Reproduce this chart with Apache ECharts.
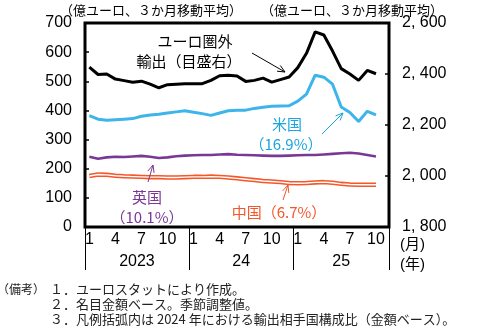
<!DOCTYPE html>
<html><head><meta charset="utf-8">
<script src="https://cdn.jsdelivr.net/npm/echarts@6/dist/echarts.min.js"></script>
<style>html,body{margin:0;padding:0;background:#fff}#c{width:483px;height:327px}</style>
</head><body><div id="c"></div>
<script>
// ---- data ----
const categories = [
  '2023-1','2023-2','2023-3','2023-4','2023-5','2023-6','2023-7','2023-8','2023-9','2023-10','2023-11','2023-12',
  '2024-1','2024-2','2024-3','2024-4','2024-5','2024-6','2024-7','2024-8','2024-9','2024-10','2024-11','2024-12',
  '2025-1','2025-2','2025-3','2025-4','2025-5','2025-6','2025-7','2025-8','2025-9','2025-10','2025-11'
];
const monthTickLabels = ['1','4','7','10'];
const yearLabels = {'2023':'2023','2024':'24','2025':'25'};
const leftTicks = [0,100,200,300,400,500,600,700];
const rightTicks = [1800,2000,2200,2400,2600];

// extra-EU exports (right axis)
const extraEU = [2427,2398,2400,2380,2374,2368,2372,2360,2346,2358,2360,2362,
                 2362,2362,2375,2393,2395,2392,2371,2375,2384,2368,2378,2388,
                 2425,2481,2565,2553,2490,2421,2400,2375,2414,2401];
// United States
const usa = [382,370,366,368,370,372,380,384,387,391,395,399,
             394,389,383,391,399,401,401,407,411,414,415,416,
             432,456,521,514,490,412,393,362,397,385];
// United Kingdom
const uk = [241,234,239,241,240,242,244,241,237,239,243,245,
            246,247,247,249,250,248,247,246,245,244,244,245,
            246,247,247,249,251,253,255,252,247,242];
// China
const china = [175,180,179,176,174,173,172,171,171,170,170,171,
               172,172,173,172,170,167,164,161,158,156,154,151,
               150,151,153,154,152,148,146,145,145,145];

// ---- chart ----
const NUM = "'Liberation Sans Narrow','Arial Narrow','Liberation Sans',sans-serif";
const JP = "'Noto Sans CJK JP','Noto Sans',sans-serif";
const C_BLUE = '#3db4ea', C_PURPLE = '#7a3896', C_ORANGE = '#f4572a';

function arrow(x1, y1, x2, y2, color) {
  const ang = Math.atan2(y2 - y1, x2 - x1), L = 8, a = 0.42;
  const p1 = [x2 - L * Math.cos(ang - a), y2 - L * Math.sin(ang - a)];
  const p2 = [x2 - L * Math.cos(ang + a), y2 - L * Math.sin(ang + a)];
  return [
    {type: 'line', shape: {x1, y1, x2, y2}, style: {stroke: color, lineWidth: 1}, z: 100},
    {type: 'polyline', shape: {points: [p1, [x2, y2], p2]}, style: {stroke: color, lineWidth: 1, fill: null}, z: 100}
  ];
}
function txt(x, y, text, size, color, align, family) {
  return {type: 'text', x, y, z: 100, style: {
    text, fill: color, font: size + 'px ' + (family || JP),
    align: align || 'center', textAlign: align || 'center',
    verticalAlign: 'middle', textVerticalAlign: 'middle'}};
}

const chart = echarts.init(document.getElementById('c'), null, {renderer: 'canvas'});
chart.setOption({
  animation: false,
  grid: {left: 85, right: 94, top: 23, bottom: 100, show: true, borderColor: '#000', borderWidth: 3, backgroundColor: 'transparent'},
  xAxis: [{
    type: 'category', data: categories, boundaryGap: true, position: 'bottom',
    axisLine: {show: false},
    axisTick: {show: true, interval: (i) => i % 12 === 0, length: 43, inside: false, lineStyle: {color: '#000', width: 1}},
    axisLabel: {interval: 0, margin: 5, color: '#000', fontSize: 16, fontFamily: NUM,
      formatter: (v) => { const m = v.split('-')[1]; return monthTickLabels.includes(m) ? m : ''; }},
    splitLine: {show: false}
  }, {
    type: 'category', data: categories, boundaryGap: true, position: 'bottom', offset: 22,
    axisLine: {show: false}, axisTick: {show: false}, splitLine: {show: false},
    axisLabel: {interval: 0, margin: 5, color: '#000', fontSize: 16, fontFamily: NUM,
      formatter: (v) => {
        const [y, m] = v.split('-');
        if ((y === '2023' || y === '2024') && m === '7') return '{l|' + yearLabels[y] + '}';
        if (y === '2025' && m === '6') return yearLabels[y];
        return '';
      },
      rich: {l: {fontSize: 16, fontFamily: NUM, color: '#000', padding: [0, 9, 0, 0]}}
    }
  }],
  yAxis: [{
    type: 'value', min: leftTicks[0], max: leftTicks[leftTicks.length - 1], interval: 100, position: 'left',
    axisLine: {show: false}, splitLine: {show: false},
    axisTick: {show: true, inside: true, length: 4, lineStyle: {color: '#000', width: 1.5}},
    axisLabel: {margin: 13, color: '#000', fontSize: 16, fontFamily: NUM}
  }, {
    type: 'value', min: rightTicks[0], max: rightTicks[rightTicks.length - 1], interval: 200, position: 'right',
    axisLine: {show: false}, splitLine: {show: false},
    axisTick: {show: true, inside: true, length: 4, lineStyle: {color: '#000', width: 1.5}},
    axisLabel: {margin: 13, color: '#000', fontSize: 16, fontFamily: NUM,
      formatter: (v) => String(v).replace(/(\d)(\d{3})$/, '$1, $2')}
  }],
  series: [
    {type: 'line', name: '中国外', data: china, yAxisIndex: 0, symbol: 'none', lineStyle: {color: C_ORANGE, width: 4.5}, z: 3},
    {type: 'line', name: '中国', data: china, yAxisIndex: 0, symbol: 'none', lineStyle: {color: '#fff', width: 1.4}, z: 4},
    {type: 'line', name: '英国', data: uk, yAxisIndex: 0, symbol: 'none', lineStyle: {color: C_PURPLE, width: 2.6}, z: 5},
    {type: 'line', name: '米国', data: usa, yAxisIndex: 0, symbol: 'none', lineStyle: {color: C_BLUE, width: 3}, z: 6},
    {type: 'line', name: 'ユーロ圏外輸出', data: extraEU, yAxisIndex: 1, symbol: 'none', lineStyle: {color: '#000', width: 3}, z: 7}
  ],
  graphic: [
    txt(151, 10, '（億ユーロ、３か月移動平均）', 13, '#000'),
    txt(352, 10, '（億ユーロ、３か月移動平均）', 13, '#000'),
    txt(195, 41, 'ユーロ圏外', 15, '#000'),
    txt(189, 61, '輸出（目盛右）', 15, '#000'),
    ...arrow(252, 53, 285, 72, '#000'),
    txt(287, 124, '米国', 15, '#1aa5e0'),
    txt(286, 144, '（16.9%）', 15, '#1aa5e0'),
    ...arrow(322, 134, 343, 113, '#1aa5e0'),
    txt(147, 197, '英国', 15, C_PURPLE),
    txt(147, 217, '（10.1%）', 15, C_PURPLE),
    ...arrow(148, 182, 153, 165, C_PURPLE),
    txt(279, 212, '中国（6.7%）', 15, C_ORANGE),
    ...arrow(283, 200, 288, 185, C_ORANGE),
    txt(400, 245, '(月)', 15, '#000', 'left', NUM.replace("sans-serif", "'Noto Sans CJK JP'")),
    txt(400, 265, '(年)', 15, '#000', 'left', NUM.replace("sans-serif", "'Noto Sans CJK JP'")),
    txt(-3, 289, '（備考）', 12, '#222', 'left'),
    txt(50, 289, '１．ユーロスタットにより作成。', 13, '#222', 'left'),
    txt(50, 304, '２．名目金額ベース。季節調整値。', 13, '#222', 'left'),
    txt(50, 319, '３．凡例括弧内は 2024 年における輸出相手国構成比（金額ベース）。', 13, '#222', 'left')
  ]
});
</script></body></html>
